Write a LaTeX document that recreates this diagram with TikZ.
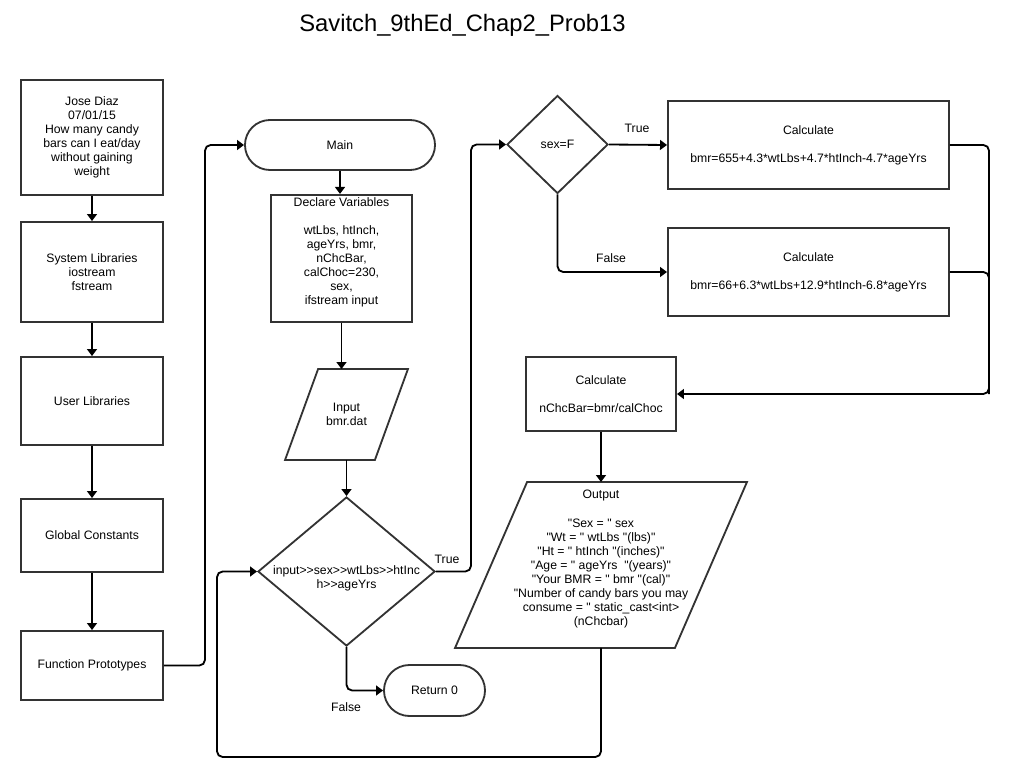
\documentclass[tikz,border=0pt]{standalone}
\usepackage{fontspec}
\newfontfamily\chartfont{Liberation Sans}
\usepackage{tikz}
\usetikzlibrary{shapes.misc,shapes.geometric,arrows.meta,positioning}
\colorlet{shapeline}{black!80}
\tikzset{flowtext/.style = {align=center, inner sep=0pt, font=\chartfont\fontsize{8.7}{10}\selectfont}}
\tikzset{flowchart/.style = {flowtext, draw=shapeline, line width=1.3pt, text centered}}
\tikzset{process/.style = {flowchart, rectangle, minimum width=3.55cm}}
\tikzset{startstop/.style = {flowchart, rounded rectangle}}
\tikzset{io/.style = {flowchart, draw=none, append after command={\pgfextra{\draw[draw=shapeline, line width=1.3pt] ([xshift=#1]\tikzlastnode.north west) -- ([xshift=#1]\tikzlastnode.north east) -- ([xshift=-#1]\tikzlastnode.south east) -- ([xshift=-#1]\tikzlastnode.south west) -- cycle;}}}}
\tikzset{decision/.style = {flowchart, diamond}}
\tikzset{arrow/.style={line width=1.3pt, -{Triangle[length=5pt,width=7pt]}, rounded corners=4pt}}
\tikzset{wire/.style={line width=1.3pt, rounded corners=4pt}}
\tikzset{branch/.style={flowtext, anchor=base}}

\begin{document}
\begin{tikzpicture}[x=0.025cm, y=-0.025cm]
	\useasboundingbox (0,0) rectangle (1013,781);
	\node[anchor=base, font=\chartfont\fontsize{16.9}{20}\selectfont] (title) at (462.5,32) {Savitch\_9thEd\_Chap2\_Prob13};
	% left column
	\node[process, minimum height=2.875cm] (jose) at (92,137.5) {Jose Diaz\\07/01/15\\How many candy\\bars can I eat/day\\without gaining\\weight};
	\node[process, minimum height=2.5cm] (syslib) at (92,272) {System Libraries\\iostream\\fstream};
	\node[process, minimum height=2.2cm] (userlib) at (92,401) {User Libraries};
	\node[process, minimum height=1.825cm] (global) at (92,535.5) {Global Constants};
	\node[process, minimum height=1.725cm] (proto) at (92,665.5) {Function Prototypes};
	% main column
	\node[startstop, minimum width=4.75cm, minimum height=1.25cm] (main) at (340,145) {Main};
	\node[process, minimum width=3.54cm, minimum height=3.17cm] (decl) at (341.5,258.3) {Declare Variables\\[10pt]wtLbs, htInch,\\ageYrs, bmr,\\nChcBar,\\calChoc=230,\\sex,\\ifstream input\\\mbox{}};
	\node[io=0.4125cm, minimum width=2.2cm, minimum height=2.225cm] (inp) at (346.5,414.5) {Input\\bmr.dat};
	\node[decision, minimum width=4.425cm, minimum height=3.725cm, label={[flowtext, yshift=-0.18cm]center:{input>>sex>>wtLbs>>htInc\\h>>ageYrs}}] (loop) at (346.5,571.5) {};
	\node[startstop, minimum width=2.525cm, minimum height=1.275cm] (ret) at (434.5,690.5) {Return 0};
	% right part
	\node[decision, minimum width=2.525cm, minimum height=2.45cm] (sexF) at (557.5,144.5) {sex=F};
	\node[process, minimum width=7.025cm, minimum height=2.2cm] (calcF) at (808.5,145) {Calculate\\[10pt]bmr=655+4.3*wtLbs+4.7*htInch-4.7*ageYrs};
	\node[process, minimum width=7.025cm, minimum height=2.2cm] (calcM) at (808.5,272) {Calculate\\[10pt]bmr=66+6.3*wtLbs+12.9*htInch-6.8*ageYrs};
	\node[process, minimum width=3.75cm, minimum height=1.85cm] (calcN) at (601,394) {Calculate\\[10pt]nChcBar=bmr/calChoc};
	\node[io=0.9cm, minimum width=5.45cm, minimum height=4.1cm] (output) at (601,565) {Output\\[10pt]"Sex = " sex\\"Wt = " wtLbs "(lbs)"\\"Ht = " htInch "(inches)"\\"Age = " ageYrs \ "(years)"\\"Your BMR = " bmr "(cal)"\\"Number of candy bars you may\\consume = " static\_cast<int>\\(nChcbar)\\\mbox{}};
	% branch labels
	\node[branch] (trueLoop) at (447,563) {True};
	\node[branch] (falseLoop) at (346,711) {False};
	\node[branch] (trueSex) at (637,133) {True};
	\node[branch] (falseSex) at (611,263) {False};
	% connectors
	\coordinate (toMain) at (205,665.5);
	\coordinate (toSex) at (471,571.5);
	\coordinate (bmrBus) at (989,145);
	\coordinate (backLoop) at (217,757);
	\draw[arrow] (jose) -- (syslib);
	\draw[arrow] (syslib) -- (userlib);
	\draw[arrow] (userlib) -- (global);
	\draw[arrow] (global) -- (proto);
	\draw[arrow] (proto.east) -- (toMain) |- (main.west);
	\draw[arrow] (main.south) -- (main.south |- decl.north);
	\draw[arrow] (decl.south) -- (decl.south |- inp.north);
	\draw[arrow] (inp.south) -- (loop.north);
	\draw[arrow] (loop.south) |- (ret.west);
	\draw[arrow] (loop.east) -- (toSex) |- (sexF.west);
	\draw[arrow] (sexF.east) -- (calcF.west);
	\draw[arrow] (sexF.south) |- (calcM.west);
	\draw[arrow] (calcF.east) -- (bmrBus) |- (calcN.east);
	\draw[wire] (calcM.east) -| (calcN.east -| bmrBus);
	\draw[arrow] (calcN.south) -- (calcN.south |- output.north);
	\draw[arrow] (output.south) |- (backLoop) |- (loop.west);
\end{tikzpicture}
\end{document}
